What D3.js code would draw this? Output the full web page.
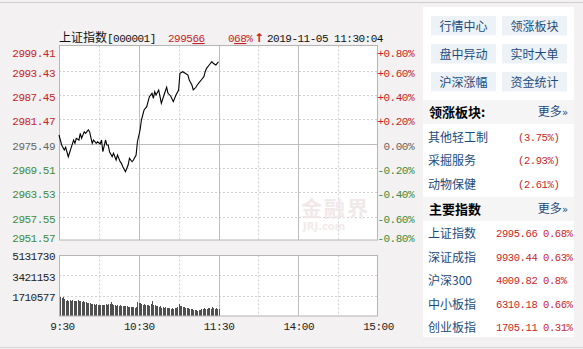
<!DOCTYPE html>
<html>
<head>
<meta charset="utf-8">
<title>上证指数 分时走势</title>
<script src="https://d3js.org/d3.v7.min.js"></script>
<style>
  body { margin: 0; background: #f3f1f1; }
  svg { display: block; }
  .mono { font-family: "Liberation Mono", "DejaVu Sans Mono", monospace; font-size: 11px; letter-spacing: -0.5px; }
  .small { font-family: "Liberation Mono", "DejaVu Sans Mono", monospace; font-size: 10.5px; letter-spacing: -0.4px; }
  .cjk { font-family: "Noto Sans CJK SC", sans-serif; font-size: 12px; }
</style>
</head>
<body>
<div id="chart"></div>
<script>
// intraday index line: minutes after 9:30 and index value
var priceMinutes = [0, 2, 4, 5, 7, 9, 11, 12, 13, 15, 16, 17, 19, 20, 22, 23, 25, 26, 28, 29,
  31, 32, 33, 35, 36, 37, 38, 40, 41, 43, 44, 46, 47, 48, 50, 52, 53, 55, 56, 58,
  59, 61, 62, 64, 66, 68, 70, 71, 72, 73, 75, 76, 77, 79, 81, 82, 84, 86, 88, 90,
  91, 93, 95, 97, 98, 100, 101, 103, 104, 106, 107, 109, 110, 111, 113, 115, 116, 118, 119, 120];
var priceValues = [2977.64, 2975.18, 2973.95, 2974.62, 2972.30, 2974.37, 2976.41, 2975.60, 2976.83, 2976.41,
  2978.06, 2976.83, 2978.45, 2978.06, 2978.87, 2978.45, 2975.60, 2976.41, 2975.60, 2975.99,
  2975.43, 2976.41, 2973.53, 2976.41, 2975.18, 2975.18, 2973.53, 2972.30, 2973.14, 2971.49,
  2972.72, 2971.07, 2970.68, 2969.84, 2968.61, 2970.26, 2971.91, 2971.07, 2971.49, 2972.72,
  2975.99, 2978.87, 2981.33, 2983.79, 2984.60, 2987.06, 2987.90, 2986.67, 2988.29, 2987.48,
  2988.71, 2987.06, 2985.44, 2987.48, 2989.38, 2987.90, 2987.24, 2985.83, 2987.48, 2988.71,
  2992.82, 2993.21, 2992.82, 2992.40, 2991.17, 2989.94, 2988.71, 2989.38, 2989.94, 2990.75,
  2991.17, 2991.98, 2993.21, 2994.05, 2994.86, 2995.67, 2995.28, 2994.86, 2995.28, 2995.66];

// volume per minute, 9:30 - 11:30 (lots)
var volumes = [5300000,
  1620000, 1500000, 1560000,
  1420000, 1300000, 1380000, 1260000, 1340000,
  1280000, 1350000, 1240000, 1300000,
  1220000, 1360000, 1300000, 1250000,
  1180000, 1240000, 1150000, 1200000,
  1100000, 1060000, 1120000, 1040000,
  980000, 1020000, 960000, 1000000,
  930000, 960000, 900000, 940000,
  960000, 920000, 980000, 950000,
  1040000, 1000000, 1180000, 1050000,
  920000, 960000, 880000, 920000,
  860000, 900000, 850000, 880000,
  870000, 820000, 840000, 780000,
  740000, 790000, 720000, 760000,
  700000, 750000,
  1150000, 1080000, 1120000, 1000000,
  960000, 1000000, 940000, 900000,
  950000, 880000, 1000000, 1250000,
  940000, 900000, 860000, 820000,
  780000, 800000, 700000, 740000,
  680000, 720000, 660000, 700000,
  640000, 600000, 660000, 620000,
  700000, 650000, 760000, 1000000,
  880000, 820000, 760000, 780000,
  700000, 660000, 640000, 600000,
  580000, 620000, 540000, 500000,
  520000, 460000, 500000, 540000,
  560000, 600000, 640000, 560000,
  620000, 700000, 640000, 600000,
  720000, 640000, 600000, 660000,
  620000, 560000];

var prevClose = 2975.49;
var priceTicks = [2999.41, 2993.43, 2987.45, 2981.47, 2975.49, 2969.51, 2963.53, 2957.55, 2951.57];
var pctTicks = ["+0.80%", "+0.60%", "+0.40%", "+0.20%", "0.00%", "-0.20%", "-0.40%", "-0.60%", "-0.80%"];
var volumeTicks = [5131730, 3421153, 1710577];
var timeTicks = [0, 60, 120, 180, 240];
var timeLabels = ["9:30", "10:30", "11:30", "14:00", "15:00"];
var gridMinutes = [30, 60, 90, 120, 150, 180, 210];

// side panel
var buttons = ["行情中心", "领涨板块", "盘中异动", "实时大单", "沪深涨幅", "资金统计"];
var sectorNames = ["其他轻工制", "采掘服务", "动物保健"];
var sectorPct = ["3.75%", "2.93%", "2.61%"];
var indexNames = ["上证指数", "深证成指", "沪深300", "中小板指", "创业板指"];
var indexValues = ["2995.66", "9930.44", "4009.82", "6310.18", "1705.11"];
var indexPct = ["0.68%", "0.63%", "0.8%", "0.66%", "0.31%"];

var red = "#c81e28", green = "#3d8b3d", gray = "#666", blue = "#1b4b7e";

var width = 583, height = 349;
var svg = d3.select("#chart").append("svg")
  .attr("width", width)
  .attr("height", height);

// page lines
svg.append("line").attr("x1", 0).attr("x2", width).attr("y1", 2.5).attr("y2", 2.5).attr("stroke", "#cfcfcf");
svg.append("line").attr("x1", 0).attr("x2", width).attr("y1", 347.5).attr("y2", 347.5).attr("stroke", "#d6d6d6");

var x = d3.scaleLinear().domain([0, 240]).range([59, 378]);
var y = d3.scaleLinear().domain([2951.57, 2999.41]).range([241, 46.5]);
var yv = d3.scaleLinear().domain([0, 5131730]).range([316, 255]).clamp(true);

// ---- price panel ----
svg.append("rect").attr("x", 59.5).attr("y", 45.5).attr("width", 318).attr("height", 194.5)
  .attr("fill", "#fff");

svg.selectAll(".hgrid").data(priceTicks.slice(1, -1)).enter().append("line")
  .attr("class", "hgrid")
  .attr("x1", 59).attr("x2", 378)
  .attr("y1", function(d) { return Math.round(y(d)) + 0.5; })
  .attr("y2", function(d) { return Math.round(y(d)) + 0.5; })
  .attr("stroke", function(d) { return d === prevClose ? "#bdbdbd" : "#cfcfcf"; })
  .attr("stroke-dasharray", function(d) { return d === prevClose ? null : "2,2"; });

function vgrid(top, bottom) {
  svg.append("g").selectAll("line").data(gridMinutes).enter().append("line")
    .attr("x1", function(d) { return Math.round(x(d)) + 0.5; })
    .attr("x2", function(d) { return Math.round(x(d)) + 0.5; })
    .attr("y1", top).attr("y2", bottom)
    .attr("stroke", function(d) { return d % 60 === 0 ? "#bdbdbd" : "#cfcfcf"; })
    .attr("stroke-dasharray", function(d) { return d % 60 === 0 ? null : "2,2"; });
}
vgrid(45.5, 240);

svg.append("rect").attr("x", 59.5).attr("y", 45.5).attr("width", 318).attr("height", 194.5)
  .attr("fill", "none").attr("stroke", "#b5b5b5");

// watermark
svg.append("text").attr("x", 301).attr("y", 216)
  .attr("font-family", "Noto Sans CJK SC").attr("font-weight", "bold").attr("font-size", 21)
  .attr("letter-spacing", 2).attr("fill", "#f1e9e9").text("金融界");
svg.append("text").attr("x", 303).attr("y", 230)
  .attr("font-family", "DejaVu Sans").attr("font-weight", "bold").attr("font-size", 10)
  .attr("fill", "#f3eaea").text("JRJ.com");

var line = d3.line()
  .x(function(d, i) { return x(priceMinutes[i]); })
  .y(function(d) { return y(d); });
svg.append("path").datum(priceValues)
  .attr("d", line)
  .attr("fill", "none")
  .attr("stroke", "#000")
  .attr("stroke-width", 1.1);

function labelColor(i) {
  var mid = priceTicks.indexOf(prevClose);
  return i < mid ? red : (i === mid ? gray : green);
}
function labelDy(i, n) {
  if (i === 0) return "0.9em";
  if (i === n - 1) return "0.05em";
  return "0.5em";
}

var leftAxis = svg.append("g").attr("transform", "translate(59,0)")
  .call(d3.axisLeft(y).tickValues(priceTicks).tickSize(0).tickPadding(4).tickFormat(d3.format(".2f")));
leftAxis.select(".domain").remove();
leftAxis.attr("font-family", null).attr("font-size", null);
leftAxis.selectAll("text")
  .attr("class", "mono")
  .attr("dy", function(d, i) { return labelDy(i, priceTicks.length); })
  .attr("fill", function(d, i) { return labelColor(i); });

var rightAxis = svg.append("g").attr("transform", "translate(378,0)")
  .call(d3.axisRight(y).tickValues(priceTicks).tickSize(0).tickPadding(0)
    .tickFormat(function(d, i) { return pctTicks[i]; }));
rightAxis.select(".domain").remove();
rightAxis.attr("font-family", null).attr("font-size", null);
rightAxis.selectAll("text")
  .attr("class", "mono")
  .attr("text-anchor", "end")
  .attr("x", 36)
  .attr("dy", function(d, i) { return labelDy(i, priceTicks.length); })
  .attr("fill", function(d, i) { return labelColor(i); });

// ---- volume panel ----
svg.append("rect").attr("x", 59.5).attr("y", 255.5).attr("width", 318).attr("height", 60.5)
  .attr("fill", "#fff");
svg.selectAll(".vhgrid").data(volumeTicks.slice(1)).enter().append("line")
  .attr("class", "vhgrid")
  .attr("x1", 59).attr("x2", 378)
  .attr("y1", function(d) { return Math.round(yv(d)) + 0.5; })
  .attr("y2", function(d) { return Math.round(yv(d)) + 0.5; })
  .attr("stroke", "#cfcfcf")
  .attr("stroke-dasharray", "2,2");
vgrid(255.5, 316);

svg.append("g").attr("shape-rendering", "crispEdges")
  .selectAll("rect").data(volumes).enter().append("rect")
  .attr("x", function(d, i) { return x(i); })
  .attr("y", function(d) { return yv(d); })
  .attr("width", 1)
  .attr("height", function(d) { return yv(0) - yv(d); })
  .attr("fill", "#4f4f4f");

svg.append("rect").attr("x", 59.5).attr("y", 255.5).attr("width", 318).attr("height", 60.5)
  .attr("fill", "none").attr("stroke", "#b5b5b5");

var volAxis = svg.append("g").attr("transform", "translate(59,0)")
  .call(d3.axisLeft(yv).tickValues(volumeTicks).tickSize(0).tickPadding(4).tickFormat(d3.format("d")));
volAxis.select(".domain").remove();
volAxis.attr("font-family", null).attr("font-size", null);
volAxis.selectAll("text").attr("class", "mono").attr("dy", "0.45em").attr("fill", "#222");

var timeAxis = svg.append("g").attr("transform", "translate(0,316)")
  .call(d3.axisBottom(x).tickValues(timeTicks).tickSize(0).tickPadding(6)
    .tickFormat(function(d, i) { return timeLabels[i]; }));
timeAxis.select(".domain").remove();
timeAxis.attr("font-family", null).attr("font-size", null);
timeAxis.selectAll("text").attr("class", "mono").attr("fill", "#222")
  .attr("dx", function(d, i) { return i === 0 ? 3 : 0; });

// ---- header ----
var head = svg.append("text").attr("x", 59).attr("y", 42);
head.append("tspan").attr("class", "cjk").attr("fill", "#111").text("上证指数");
head.append("tspan").attr("class", "mono").attr("font-size", 12).attr("fill", "#111").text("[000001]");

var last = svg.append("text").attr("x", 168).attr("y", 42).attr("class", "mono").attr("font-size", 12).attr("fill", red);
last.append("tspan").text("2995");
last.append("tspan").style("text-decoration", "underline").text("66");

var chg = svg.append("text").attr("x", 228).attr("y", 42).attr("class", "mono").attr("font-size", 12).attr("fill", red);
chg.append("tspan").text("0");
chg.append("tspan").style("text-decoration", "underline").text("68");
chg.append("tspan").text("%");

svg.append("text").attr("x", 254).attr("y", 42).attr("font-family", "DejaVu Sans").attr("font-size", 12)
  .attr("font-weight", "bold").attr("fill", red).text("↑");
svg.append("text").attr("x", 267).attr("y", 42).attr("class", "mono").attr("font-size", 12)
  .attr("fill", "#111").text("2019-11-05 11:30:04");

// ---- side panel ----
svg.append("rect").attr("x", 423).attr("y", 7).attr("width", 151).attr("height", 330).attr("fill", "#fff");

svg.append("g").selectAll("g").data(buttons).enter().append("g")
  .attr("transform", function(d, i) { return "translate(" + (i % 2 === 0 ? 431 : 502) + "," + (16 + Math.floor(i / 2) * 28) + ")"; })
  .each(function(d) {
    var b = d3.select(this);
    b.append("rect").attr("width", 65).attr("height", 19.5).attr("fill", "#edf2f7");
    b.append("text").attr("class", "cjk").attr("x", 32.5).attr("y", 14.5).attr("text-anchor", "middle")
      .attr("fill", blue).text(d);
  });

function section(top, title) {
  svg.append("rect").attr("x", 423).attr("y", top).attr("width", 151).attr("height", 24).attr("fill", "#f5f5f5");
  svg.append("text").attr("x", 429).attr("y", top + 16.5)
    .attr("font-family", "Noto Sans CJK SC").attr("font-size", 13).attr("font-weight", "bold")
    .attr("fill", "#000").text(title);
  var more = svg.append("text").attr("x", 568).attr("y", top + 16).attr("text-anchor", "end").attr("fill", blue);
  more.append("tspan").attr("class", "cjk").text("更多");
  more.append("tspan").attr("font-family", "DejaVu Sans").attr("font-size", 10).text("»");
}

section(100, "领涨板块:");
svg.append("g").selectAll("text").data(sectorNames).enter().append("text")
  .attr("class", "cjk").attr("x", 428).attr("y", function(d, i) { return 141.5 + i * 23.5; })
  .attr("fill", blue).text(function(d) { return d; });
svg.append("g").selectAll("text").data(sectorPct).enter().append("text")
  .attr("class", "small").attr("x", 518).attr("y", function(d, i) { return 140.5 + i * 23.5; })
  .attr("fill", red).text(function(d) { return "(" + d + ")"; });

section(197, "主要指数");
svg.append("g").selectAll("text").data(indexNames).enter().append("text")
  .attr("class", "cjk").attr("x", 428).attr("y", function(d, i) { return 238 + i * 23.6; })
  .attr("fill", blue).text(function(d) { return d; });
svg.append("g").selectAll("text").data(indexValues).enter().append("text")
  .attr("class", "small").attr("x", 496).attr("y", function(d, i) { return 237 + i * 23.6; })
  .attr("fill", red).text(function(d) { return d; });
svg.append("g").selectAll("text").data(indexPct).enter().append("text")
  .attr("class", "small").attr("x", 543).attr("y", function(d, i) { return 237 + i * 23.6; })
  .attr("fill", red).text(function(d) { return d; });
</script>
</body>
</html>
